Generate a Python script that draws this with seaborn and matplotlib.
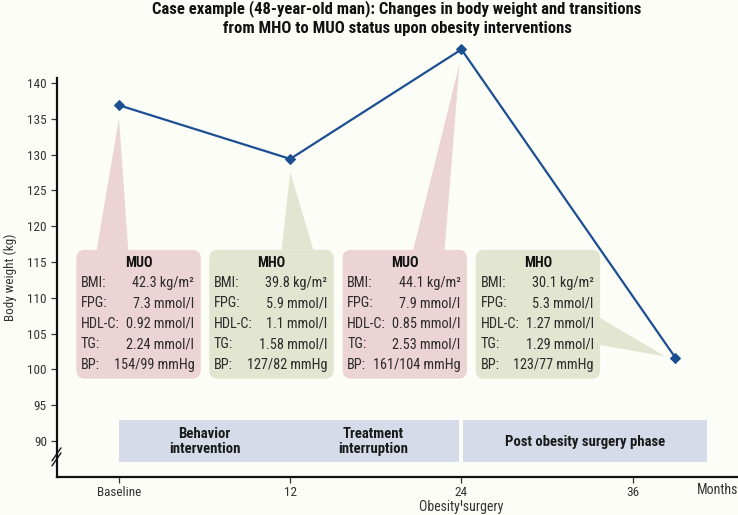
import numpy as np
import pandas as pd
import seaborn as sns
import matplotlib
matplotlib.use("Agg")
import matplotlib.pyplot as plt
from matplotlib.patches import FancyBboxPatch, Polygon, Rectangle
from matplotlib.transforms import blended_transform_factory

# ---------------- data ----------------
months = [0, 12, 24, 39]
weights = [136.9, 129.4, 144.7, 101.6]
xtick_pos = [0, 12, 24, 36]
xtick_labels = ["Baseline", "12", "24", "36"]
yticks = [90, 95, 100, 105, 110, 115, 120, 125, 130, 135, 140]

box_status = ["MUO", "MHO", "MUO", "MHO"]
row_labels = ["BMI:", "FPG:", "HDL-C:", "TG:", "BP:"]
bmi = ["42.3 kg/m²", "39.8 kg/m²", "44.1 kg/m²", "30.1 kg/m²"]
fpg = ["7.3 mmol/l", "5.9 mmol/l", "7.9 mmol/l", "5.3 mmol/l"]
hdl = ["0.92 mmol/l", "1.1 mmol/l", "0.85 mmol/l", "1.27 mmol/l"]
tg = ["2.24 mmol/l", "1.58 mmol/l", "2.53 mmol/l", "1.29 mmol/l"]
bp = ["154/99 mmHg", "127/82 mmHg", "161/104 mmHg", "123/77 mmHg"]

phase_labels = ["Behavior\nintervention", "Treatment\ninterruption", "Post obesity surgery phase"]

title = ("Case example (48-year-old man): Changes in body weight and transitions\n"
         "from MHO to MUO status upon obesity interventions")

# ---------------- style ----------------
sns.set_style("ticks")
FONT = ["Roboto Condensed", "Roboto", "DejaVu Sans"]
plt.rcParams["font.family"] = FONT
BG = "#fdfdf8"
PINK = "#ecd3d5"
GREEN = "#e2e5cf"
BAND = "#d6dbea"
BLUE = "#1c4f92"
TXT = "#2b2b2b"

fig = plt.figure(figsize=(7.38, 5.15), dpi=100, facecolor=BG)
ax = fig.add_axes([0.0768, 0.0744, 0.9232, 0.7746])
ax.set_facecolor(BG)

df = pd.DataFrame({"month": months, "weight": weights})
sns.lineplot(data=df, x="month", y="weight", ax=ax, color=BLUE, lw=1.6,
             marker="D", markersize=5.5, markeredgecolor=BLUE, zorder=5, clip_on=False)

ax.set_xlim(-4.366, 43.38)
ax.set_ylim(85.0, 140.74)

# phase bands
ax.add_patch(Rectangle((0, 87.0), 23.85, 5.9, fc=BAND, ec="none", zorder=1))
ax.add_patch(Rectangle((24.1, 87.0), 17.1, 5.9, fc=BAND, ec="none", zorder=1))
fs_band = 10.6
ax.text(6.0, 89.9, phase_labels[0], ha="center", va="center", fontsize=fs_band,
        fontweight="bold", color="#1a1a1a", linespacing=1.15, zorder=2)
ax.text(17.8, 89.9, phase_labels[1], ha="center", va="center", fontsize=fs_band,
        fontweight="bold", color="#1a1a1a", linespacing=1.15, zorder=2)
ax.text(32.65, 89.9, phase_labels[2], ha="center", va="center", fontsize=fs_band,
        fontweight="bold", color="#1a1a1a", zorder=2)

# status boxes
lefts = [-2.99, 6.33, 15.67, 25.0]
bw = 8.72
yb, yt = 98.7, 116.7
colors = [PINK if s == "MUO" else GREEN for s in box_status]
callouts = [
    [(-1.56, yt), (0.0, 135.07), (0.65, yt)],
    [(11.40, yt), (12.0, 127.6), (13.62, yt)],
    [(20.62, yt), (23.87, 142.75), (22.82, yt)],
    [(33.7, 107.18), (38.3, 101.8), (33.7, 103.4)],
]
values = [bmi, fpg, hdl, tg, bp]
row_y = [112.03, 109.2, 106.4, 103.5, 100.65]
fs_box = 10.3
for i in range(4):
    ax.add_patch(Polygon(callouts[i], closed=True, fc=colors[i], ec="none",
                         zorder=2, clip_on=False))
    ax.add_patch(FancyBboxPatch((lefts[i], yb), bw, yt - yb,
                                boxstyle="round,pad=0,rounding_size=0.6",
                                mutation_aspect=1.99, fc=colors[i], ec="none", zorder=2))
    cx = lefts[i] + bw / 2
    ax.text(cx, 114.82, box_status[i], ha="center", va="center", fontsize=10.3,
            fontweight="bold", color="#111111", zorder=3)
    for r in range(5):
        ax.text(lefts[i] + 0.33, row_y[r], row_labels[r], ha="left", va="center",
                fontsize=fs_box, color=TXT, zorder=3)
        ax.text(lefts[i] + bw - 0.45, row_y[r], values[r][i], ha="right", va="center",
                fontsize=fs_box, color=TXT, zorder=3)

# axes styling
for s in ["top", "right"]:
    ax.spines[s].set_visible(False)
for s in ["left", "bottom"]:
    ax.spines[s].set_linewidth(1.6)
    ax.spines[s].set_color("#111111")
ax.set_yticks(yticks)
ax.set_xticks(xtick_pos)
ax.set_xticklabels(xtick_labels)
ax.tick_params(axis="both", direction="out", length=4, width=0.9, color="#333333",
               labelsize=9.5, labelcolor="#333333", pad=3)
ax.set_xlabel("")
ax.set_ylabel("Body weight (kg)", fontsize=9.5, color="#333333", labelpad=7)

trans = blended_transform_factory(ax.transData, ax.transAxes)
ax.text(1.0, -0.0326, "Months", transform=ax.transAxes, ha="right", va="center",
        fontsize=10, color="#333333", clip_on=False)
ax.text(24, -0.0752, "Obesity surgery", transform=trans, ha="center", va="center",
        fontsize=10, color="#333333", clip_on=False)
ax.plot([24, 24], [-0.058, -0.071], transform=trans, color="#333333", lw=0.9, clip_on=False)

# axis break marks
for y0 in (0.0396, 0.0271):
    ax.plot([-0.0069, 0.0063], [y0, y0 + 0.0326], transform=ax.transAxes,
            color="#111111", lw=1.0, clip_on=False, zorder=6)

fig.text(0.538, 0.965, title, ha="center", va="center", fontsize=12,
         fontweight="bold", color="#111111", linespacing=1.3)

fig.savefig("out.png", dpi=100, facecolor=BG)
